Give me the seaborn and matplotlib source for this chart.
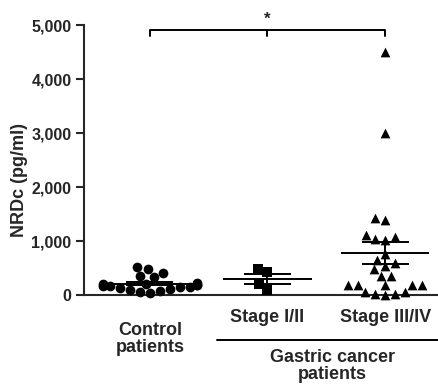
import numpy as np
import pandas as pd
import matplotlib
matplotlib.use("Agg")
import matplotlib.pyplot as plt
import seaborn as sns
from matplotlib.transforms import blended_transform_factory

# ---- data ----
groups = ["Control", "Stage I/II", "Stage III/IV"]
control = [520, 480, 410, 350, 330, 230, 210, 200, 190, 180, 170, 160, 150,
           140, 130, 110, 100, 80, 60, 40]
stage12 = [480, 100, 420, 200]
stage34 = [4500, 3000, 1420, 1390, 1110, 1075, 1040, 1020, 760, 650, 590, 540,
           480, 350, 350, 185, 185, 185, 185, 185, 50, 20, 0, 20, 50]
yticks = [0, 1000, 2000, 3000, 4000, 5000]
ytick_labels = ["0", "1,000", "2,000", "3,000", "4,000", "5,000"]
markers = ["o", "s", "^"]

sns.set_style("ticks")
plt.rcParams["font.family"] = ["Liberation Sans", "DejaVu Sans"]
plt.rcParams["font.weight"] = "bold"

df = pd.DataFrame({
    "group": ["Control"] * len(control) + ["Stage I/II"] * len(stage12)
             + ["Stage III/IV"] * len(stage34),
    "value": control + stage12 + stage34,
})
df["group"] = pd.Categorical(df["group"], categories=groups)

fig = plt.figure(figsize=(4.38, 3.85), dpi=100)
ax = fig.add_axes([84 / 438, 90 / 385, 354 / 438, 270 / 385])

for g, m in zip(groups, markers):
    sub = df[df["group"] == g]
    sns.swarmplot(data=sub, x="group", y="value", order=groups, marker=m,
                  color="black", size=7, linewidth=0, ax=ax, clip_on=False,
                  warn_thresh=1)

# mean +/- SEM
for i, g in enumerate(groups):
    v = df.loc[df["group"] == g, "value"].to_numpy(dtype=float)
    mu = v.mean()
    se = v.std(ddof=1) / np.sqrt(len(v))
    ax.hlines(mu, i - 0.375, i + 0.375, color="black", lw=1.4, zorder=3)
    ax.hlines([mu - se, mu + se], i - 0.2, i + 0.2, color="black", lw=1.4, zorder=3)
    ax.vlines(i, mu - se, mu + se, color="black", lw=1.4, zorder=3)

ax.set_xlim(-0.56, 2.45)
ax.set_ylim(0, 5000)
ax.set_yticks(yticks)
ax.set_yticklabels(ytick_labels, fontsize=11.5, fontweight="bold")
ax.set_xticks([])
ax.set_xlabel("")
ax.set_ylabel("")
for s in ["top", "right"]:
    ax.spines[s].set_visible(False)
for s in ["left", "bottom"]:
    ax.spines[s].set_linewidth(1.5)
ax.tick_params(axis="y", length=6, width=1.5, pad=3)

# significance bracket
ax.plot([0, 0, 2, 2], [4800, 4900, 4900, 4800], color="black", lw=1.4, clip_on=False)
ax.plot([1, 1], [4900, 4800], color="black", lw=1.4, clip_on=False)
ax.text(1, 4960, "*", ha="center", va="bottom", fontsize=12, fontweight="bold")

fig.text(20 / 438, 1 - 180 / 385, "NRDc (pg/ml)", rotation=90, ha="center",
         va="center", fontsize=13, fontweight="bold")

tr = blended_transform_factory(ax.transData, fig.transFigure)
ax.text(0, 1 - 322 / 385, "Control\npatients", transform=tr, ha="center", va="top",
        fontsize=13, fontweight="bold", linespacing=1.0, multialignment="center")
ax.text(1, 1 - 309 / 385, "Stage I/II", transform=tr, ha="center", va="top",
        fontsize=13, fontweight="bold")
ax.text(2, 1 - 309 / 385, "Stage III/IV", transform=tr, ha="center", va="top",
        fontsize=13, fontweight="bold")
ax.plot([0.57, 2.45], [1 - 340 / 385] * 2, transform=tr, color="black", lw=1.4,
        clip_on=False)
ax.text(1.55, 1 - 349 / 385, "Gastric cancer\npatients", transform=tr, ha="center",
        va="top", fontsize=13, fontweight="bold", linespacing=1.0,
        multialignment="center")

fig.savefig("out.png", dpi=100)
